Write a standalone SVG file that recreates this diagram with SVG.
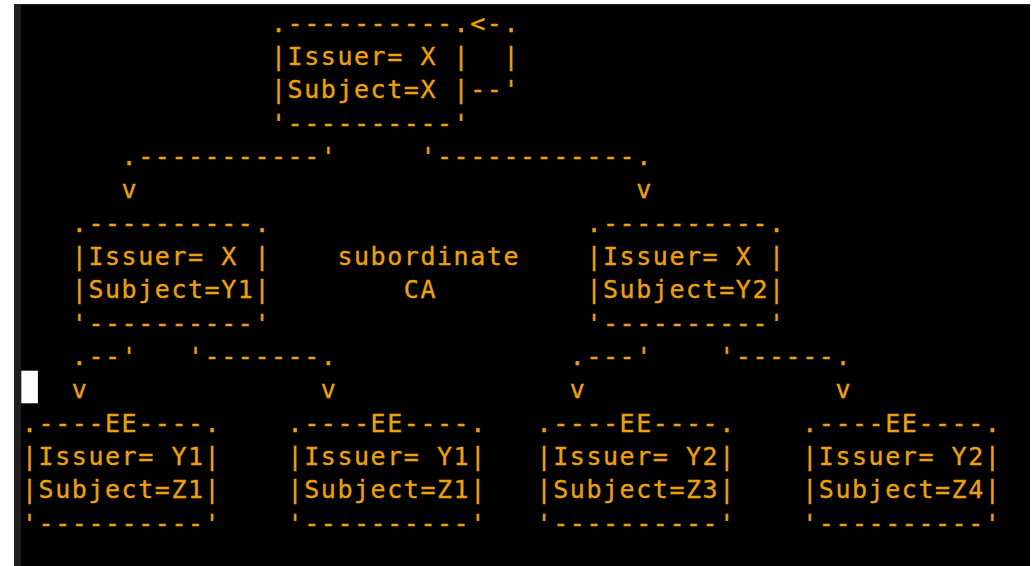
<svg xmlns="http://www.w3.org/2000/svg" width="1033" height="566" viewBox="0 0 1033 566" xml:space="preserve">
  <style>
    .t { font-family: "DejaVu Sans Mono", "Liberation Mono", monospace; font-size: 25px; letter-spacing: 1.55px; fill: #eba012; stroke: #eba012; stroke-width: 0.35px; white-space: pre; }
  </style>
  <!-- terminal window -->
  <rect x="0" y="0" width="1033" height="566" fill="#ffffff"/>
  <rect x="14" y="4" width="1016" height="562" fill="#1e1e1e"/>
  <rect x="21" y="5" width="1009" height="561" fill="#000000"/>

  <!-- root CA (self-signed) -->
  <g id="root-ca">
    <text class="t" x="271" y="31.7">.----------.</text>
    <text class="t" x="271" y="65">|Issuer= X |</text>
    <text class="t" x="271" y="98.4">|Subject=X |</text>
    <text class="t" x="271" y="131.7">'----------'</text>
  </g>

  <!-- subordinate CA Y1 -->
  <g id="ca-y1">
    <text class="t" x="71.8" y="231.7">.----------.</text>
    <text class="t" x="71.8" y="265">|Issuer= X |</text>
    <text class="t" x="71.8" y="298.3">|Subject=Y1|</text>
    <text class="t" x="71.8" y="331.7">'----------'</text>
  </g>

  <!-- subordinate CA Y2 -->
  <g id="ca-y2">
    <text class="t" x="586.4" y="231.7">.----------.</text>
    <text class="t" x="586.4" y="265">|Issuer= X |</text>
    <text class="t" x="586.4" y="298.3">|Subject=Y2|</text>
    <text class="t" x="586.4" y="331.7">'----------'</text>
  </g>

  <g id="label-subordinate-ca">
    <text class="t" x="337.4" y="265">subordinate</text>
    <text class="t" x="403.8" y="298.3">CA</text>
  </g>

  <!-- end-entity certificates -->
  <g id="ee-z1-a">
    <text class="t" x="22" y="431.7">.----EE----.</text>
    <text class="t" x="22" y="465">|Issuer= Y1|</text>
    <text class="t" x="22" y="498.3">|Subject=Z1|</text>
    <text class="t" x="22" y="531.7">'----------'</text>
  </g>
  <g id="ee-z1-b">
    <text class="t" x="287.6" y="431.7">.----EE----.</text>
    <text class="t" x="287.6" y="465">|Issuer= Y1|</text>
    <text class="t" x="287.6" y="498.3">|Subject=Z1|</text>
    <text class="t" x="287.6" y="531.7">'----------'</text>
  </g>
  <g id="ee-z3">
    <text class="t" x="536.6" y="431.7">.----EE----.</text>
    <text class="t" x="536.6" y="465">|Issuer= Y2|</text>
    <text class="t" x="536.6" y="498.3">|Subject=Z3|</text>
    <text class="t" x="536.6" y="531.7">'----------'</text>
  </g>
  <g id="ee-z4">
    <text class="t" x="802.2" y="431.7">.----EE----.</text>
    <text class="t" x="802.2" y="465">|Issuer= Y2|</text>
    <text class="t" x="802.2" y="498.3">|Subject=Z4|</text>
    <text class="t" x="802.2" y="531.7">'----------'</text>
  </g>

  <!-- connectors -->
  <g id="connectors">
    <!-- self-issued loop on the root -->
    <text class="t" x="470.2" y="31.7">&lt;-.</text>
    <text class="t" x="503.4" y="65">|</text>
    <text class="t" x="470.2" y="98.4">--'</text>
    <!-- root to subordinate CAs -->
    <text class="t" x="121.6" y="165">.-----------'</text>
    <text class="t" x="420.4" y="165">'------------.</text>
    <text class="t" x="121.6" y="198.3">v</text>
    <text class="t" x="636.2" y="198.3">v</text>
    <!-- Y1 to its end entities -->
    <text class="t" x="71.8" y="365">.--'</text>
    <text class="t" x="188" y="365">'-------.</text>
    <text class="t" x="71.8" y="398.3">v</text>
    <text class="t" x="320.8" y="398.3">v</text>
    <!-- Y2 to its end entities -->
    <text class="t" x="569.8" y="365">.---'</text>
    <text class="t" x="719.2" y="365">'------.</text>
    <text class="t" x="569.8" y="398.3">v</text>
    <text class="t" x="835.4" y="398.3">v</text>
  </g>

  <!-- cursor -->
  <rect x="21.3" y="370.7" width="16.6" height="32.6" fill="#ffffff"/>
</svg>
